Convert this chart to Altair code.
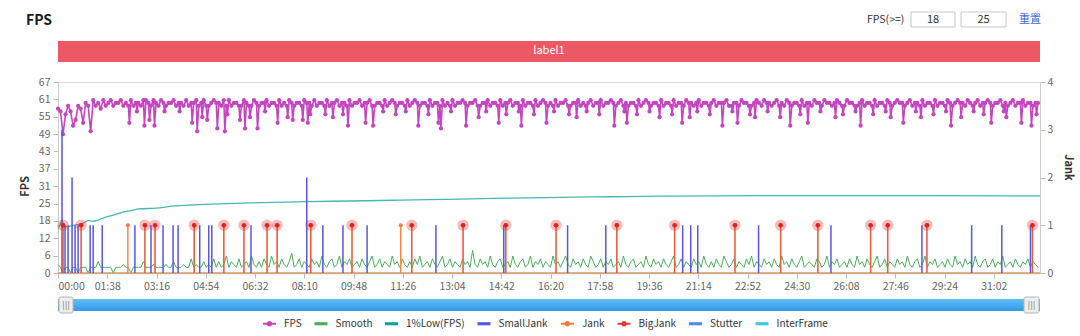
import altair as alt
import pandas as pd

# ------------------------------------------------------------------ data
T_STEP = 5          # sampling step of the FPS / Smooth series (seconds)
X_MAX = 1954        # end of the recording (seconds)

# FPS sampled every 5 s (regular frames)
FPS = [
    58, 57, 49, 56, 59, 57, 52, 54, 59, 58, 53, 60, 59, 50, 61, 59, 60, 58, 61, 59,
    60, 61, 59, 60, 60, 61, 59, 60, 59, 61, 59, 60, 60, 59, 61, 61, 60, 59, 61, 60,
    59, 61, 60, 59, 60, 60, 61, 59, 60, 60, 59, 61, 59, 60, 60, 61, 59, 60, 61, 59,
    59, 60, 61, 60, 60, 59, 61, 59, 61, 59, 60, 60, 59, 59, 61, 60, 59, 59, 61, 60,
    59, 60, 60, 61, 59, 60, 60, 59, 61, 59, 60, 59, 61, 60, 59, 60, 60, 59, 61, 60,
    60, 59, 61, 59, 60, 60, 59, 61, 59, 60, 60, 61, 59, 60, 60, 59, 61, 59, 60, 60,
    61, 59, 60, 60, 61, 59, 59, 60, 60, 59, 61, 59, 60, 61, 60, 59, 60, 60, 59, 61,
    59, 60, 61, 60, 59, 60, 60, 59, 61, 59, 60, 60, 59, 61, 59, 60, 59, 61, 59, 60,
    60, 61, 60, 59, 60, 60, 61, 59, 59, 60, 60, 61, 59, 60, 60, 59, 61, 59, 60, 60,
    61, 59, 60, 60, 59, 61, 59, 60, 60, 59, 61, 59, 60, 61, 60, 59, 60, 59, 61, 59,
    60, 60, 61, 59, 59, 60, 60, 61, 59, 60, 59, 60, 61, 59, 60, 60, 61, 59, 60, 60,
    61, 60, 59, 60, 61, 59, 60, 59, 60, 60, 59, 61, 59, 60, 61, 60, 59, 60, 60, 59,
    61, 59, 60, 60, 59, 61, 59, 60, 60, 59, 61, 60, 60, 59, 60, 61, 59, 60, 60, 59,
    60, 61, 59, 60, 60, 60, 61, 59, 59, 60, 60, 59, 61, 60, 60, 59, 59, 60, 61, 60,
    59, 61, 60, 60, 59, 60, 61, 59, 60, 59, 61, 60, 59, 60, 60, 59, 61, 59, 60, 60,
    59, 61, 60, 60, 59, 61, 60, 60, 59, 60, 61, 60, 59, 59, 61, 60, 60, 59, 59, 60,
    61, 59, 60, 60, 59, 61, 59, 60, 60, 59, 61, 60, 59, 60, 61, 60, 60, 59, 60, 61,
    59, 60, 60, 59, 61, 59, 60, 60, 59, 61, 59, 60, 60, 59, 61, 60, 59, 60, 61, 60,
    60, 59, 61, 60, 59, 60, 61, 59, 60, 60, 61, 60, 59, 60, 60, 61, 59, 60, 59, 60,
    61, 59, 60, 60, 61, 59, 60, 60, 59, 60, 60,
]

# short FPS drops (time in s, FPS value)
DIP_T = [142, 157, 172, 182, 192, 212, 242, 267, 277, 287, 297, 317, 332, 337,
         362, 372, 382, 397, 412, 437, 457, 467, 487, 497, 502, 532, 547, 567,
         577, 612, 627, 647, 672, 692, 717, 737, 757, 762, 782, 812, 837, 852,
         877, 892, 917, 922, 947, 972, 987, 1017, 1032, 1052, 1077, 1107, 1127,
         1132, 1152, 1177, 1197, 1222, 1242, 1257, 1272, 1297, 1322, 1342, 1352,
         1377, 1387, 1412, 1437, 1457, 1477, 1492, 1517, 1547, 1562, 1587, 1597,
         1622, 1647, 1657, 1682, 1707, 1717, 1742, 1767, 1777, 1797, 1822, 1842,
         1857, 1882, 1887, 1917, 1937, 1947]
DIP_V = [53, 57, 52, 54, 52, 57, 57, 53, 50, 55, 54, 51, 50, 56,
         54, 51, 55, 51, 57, 53, 55, 54, 54, 53, 56, 56, 55, 56,
         52, 53, 52, 57, 56, 57, 52, 56, 53, 51, 57, 52, 55, 57,
         53, 56, 57, 52, 56, 53, 57, 56, 55, 57, 56, 52, 57,
         53, 56, 57, 55, 56, 53, 55, 57, 56, 52, 57, 53,
         56, 55, 57, 55, 52, 56, 53, 57, 55, 56, 57, 52,
         56, 57, 55, 53, 57, 55, 56, 57, 52, 55, 57, 56,
         53, 57, 55, 53, 52, 56]

SMOOTH = [
    3, 2, 0, 2, 2, 0, 2, 2, 0, 2, 2, 2, 0, 2, 2, 2, 4, 2, 2, 2,
    2, 2, 0, 2, 2, 2, 3, 2, 2, 0, 2, 2, 2, 2, 4, 2, 2, 2, 3, 2,
    2, 2, 2, 3, 2, 2, 4, 2, 2, 2, 3, 2, 2, 5, 2, 3, 2, 2, 4, 2,
    3, 2, 5, 2, 4, 2, 3, 6, 2, 4, 3, 2, 5, 2, 3, 4, 2, 6, 3, 2,
    4, 2, 5, 3, 2, 6, 3, 4, 2, 5, 3, 2, 4, 7, 2, 3, 5, 2, 4, 3,
    2, 5, 3, 4, 2, 6, 3, 2, 4, 5, 2, 3, 6, 2, 4, 3, 5, 2, 3, 4,
    2, 5, 3, 2, 4, 6, 2, 3, 5, 2, 4, 3, 2, 6, 3, 4, 2, 5, 3, 2,
    4, 2, 5, 3, 6, 2, 3, 4, 2, 5, 3, 2, 4, 6, 2, 3, 5, 2, 4, 3,
    2, 5, 3, 4, 2, 8, 3, 2, 5, 3, 4, 2, 6, 3, 2, 4, 5, 2, 3, 4,
    2, 6, 3, 2, 4, 5, 2, 3, 6, 2, 4, 3, 5, 2, 4, 3, 2, 6, 3, 4,
    2, 4, 6, 3, 2, 5, 3, 4, 2, 5, 3, 2, 6, 4, 2, 3, 5, 2, 4, 3,
    5, 2, 3, 4, 2, 6, 3, 2, 4, 5, 2, 3, 4, 2, 6, 3, 2, 5, 3, 4,
    2, 5, 3, 2, 4, 6, 2, 3, 5, 2, 4, 3, 2, 5, 3, 4, 2, 6, 3, 2,
    4, 2, 5, 3, 2, 6, 4, 2, 3, 5, 2, 4, 3, 2, 5, 3, 6, 2, 4, 3,
    2, 5, 3, 4, 2, 5, 3, 2, 6, 3, 4, 2, 5, 3, 2, 4, 6, 2, 3, 4,
    3, 2, 5, 4, 2, 3, 6, 2, 4, 3, 5, 2, 3, 4, 2, 5, 3, 2, 6, 3,
    4, 2, 5, 3, 2, 4, 6, 2, 3, 5, 2, 4, 3, 2, 5, 3, 4, 2, 6, 3,
    2, 4, 5, 2, 3, 6, 2, 4, 3, 5, 2, 3, 4, 2, 5, 3, 2, 6, 3, 4,
    2, 5, 3, 4, 2, 6, 3, 2, 4, 5, 2, 3, 5, 2, 4, 3, 6, 2, 3, 4,
    2, 5, 3, 2, 4, 3, 5, 2, 4, 3, 2,
]

LOW_T = [0, 4, 8, 12, 20, 30, 42, 52, 60, 70, 95, 110, 129, 145, 161, 195, 229,
         262, 320, 400, 495, 580, 680, 800, 900, 1000, 1100, 1200, 1300, 1500,
         1700, 1954]
LOW_V = [15.5, 17.0, 18.8, 16.2, 16.4, 16.8, 17.2, 17.8, 18.5, 18.3, 19.7, 20.4,
         21.5, 22.0, 22.6, 22.9, 23.6, 24.0, 24.4, 24.8, 25.2, 25.4, 25.7, 26.1,
         26.4, 26.7, 26.9, 27.1, 27.25, 27.3, 27.3, 27.2]

SMALLJANK_T = [8, 14, 20, 28, 34, 40, 64, 70, 88, 153, 185, 209, 229, 239, 282,
               300, 306, 384, 495, 527, 567, 615, 752, 887, 1014, 1090, 1243, 1259,
               1273, 1394, 1538, 1719, 1818, 1878, 1935]
SMALLJANK_V = [3, 1, 1, 2, 1, 1, 1, 1, 1, 1, 1, 1, 1, 1, 1,
               1, 1, 1, 2, 1, 1, 1, 1, 1, 1, 1, 1, 1,
               1, 1, 1, 1, 1, 1, 1]
JANK_T = [139, 682]
BIGJANK_T = [10, 46, 173, 193, 271, 330, 370, 416, 436, 503, 585, 704, 806, 891,
             991, 1112, 1227, 1347, 1438, 1512, 1617, 1651, 1729, 1939]

LABELS = ["label1"]
LABEL_START = [0]
LABEL_END = [X_MAX]

FPS_TICK_LABELS = ["0", "6", "12", "18", "25", "31", "37", "43", "49", "55", "61", "67"]
FPS_AXIS_MAX = 67.4
JANK_TICKS = [0, 1, 2, 3, 4]
X_TICK_STEP = 98
X_TICK_LABELS = ["00:00", "01:38", "03:16", "04:54", "06:32", "08:10", "09:48",
                 "11:26", "13:04", "14:42", "16:20", "17:58", "19:36", "21:14",
                 "22:52", "24:30", "26:08", "27:46", "29:24", "31:02"]

SERIES = ["FPS", "Smooth", "1%Low(FPS)", "SmallJank", "Jank", "BigJank",
          "Stutter", "InterFrame"]
COLORS = ["#c545c0", "#4cae5c", "#16a09a", "#5757dd", "#ee7d3a", "#e03a3a",
          "#4a8ee8", "#3dc9d9"]

FPS_MIN_INPUT = "18"
FPS_MAX_INPUT = "25"

# ------------------------------------------------------------------ styling
FONT = "Noto Sans CJK SC"
W, H = 982, 191
C_FPS, C_SMOOTH, C_LOW, C_SMALL, C_JANK, C_BIG = COLORS[:6]
C_CURVE = "#45b8b6"
C_BIGSTEM = "#e5613d"

BAR = "M-1,-0.24L1,-0.24L1,0.24L-1,0.24Z"
BAR_DOT = ("M-1,-0.15L1,-0.15L1,0.15L-1,0.15Z "
           "M0.42,0A0.42,0.42,0,1,1,-0.42,0A0.42,0.42,0,1,1,0.42,0Z")
SHAPES = [BAR_DOT, BAR, BAR, BAR, BAR_DOT, BAR_DOT, BAR, BAR]

times = [i * T_STEP for i in range(len(FPS))]
fps_df = pd.concat([pd.DataFrame({"t": times, "v": FPS}),
                    pd.DataFrame({"t": DIP_T, "v": DIP_V})]).sort_values("t")
fps_df = fps_df.reset_index(drop=True)
fps_df["o"] = range(len(fps_df))
smooth_df = pd.DataFrame({"t": times[:len(SMOOTH)], "v": SMOOTH})
low_df = pd.DataFrame({"t": LOW_T, "v": LOW_V})
small_df = pd.DataFrame({"t": SMALLJANK_T, "j": SMALLJANK_V})
jank_df = pd.DataFrame({"t": JANK_T, "j": [1] * len(JANK_T)})
big_df = pd.DataFrame({"t": BIGJANK_T, "j": [1] * len(BIGJANK_T)})
base_df = pd.DataFrame({"t": [0], "t1": [X_MAX], "j": [0]})
label_df = pd.DataFrame({"name": LABELS, "t": LABEL_START, "t1": LABEL_END})
label_df["mid"] = (label_df["t"] + label_df["t1"]) / 2
slider_df = pd.DataFrame({"t": [0], "t1": [X_MAX]})
one = pd.DataFrame({"a": [0]})

x_values = [i * X_TICK_STEP for i in range(len(X_TICK_LABELS))]
x_label_expr = "%s[round(datum.value / %d)]" % (str(X_TICK_LABELS), X_TICK_STEP)
fps_values = [i * FPS_AXIS_MAX / (len(FPS_TICK_LABELS) - 1) for i in range(len(FPS_TICK_LABELS))]
fps_label_expr = "%s[round(datum.value * %d / %s)]" % (
    str(FPS_TICK_LABELS), len(FPS_TICK_LABELS) - 1, FPS_AXIS_MAX)

X = alt.X("t:Q", scale=alt.Scale(domain=[0, X_MAX], nice=False, zero=False),
          axis=alt.Axis(values=x_values, labelExpr=x_label_expr, title=None,
                        grid=False, tickSize=5, labelPadding=3, domainColor="#9ccfe6",
                        tickColor="#b8b8b8", labelColor="#666", labelFontSize=10.5,
                        labelFont=FONT, domainWidth=1.5))
YF = alt.Y("v:Q", scale=alt.Scale(domain=[0, FPS_AXIS_MAX], nice=False, zero=True),
           axis=alt.Axis(orient="left", values=fps_values, labelExpr=fps_label_expr,
                         title="FPS", titleX=-33, titleY=104, titleAngle=-90,
                         titleAlign="center", titleBaseline="middle",
                         titleFontSize=11, titleFontWeight="bold", titleColor="#333",
                         grid=False, tickSize=5, labelPadding=3, domainColor="#cccccc",
                         tickColor="#b8b8b8", labelColor="#666", labelFontSize=10.5,
                         labelFont=FONT, titleFont=FONT))
YJ = alt.Y("j:Q", scale=alt.Scale(domain=[0, 4], nice=False),
           axis=alt.Axis(orient="right", values=JANK_TICKS, format="d",
                         title="Jank", titleX=27, titleY=85, titleAngle=90,
                         titleAlign="center", titleBaseline="middle",
                         titleFontSize=11, titleFontWeight="bold", titleColor="#333",
                         grid=False, tickSize=5, labelPadding=2, domainColor="#cccccc",
                         tickColor="#b8b8b8", labelColor="#666", labelFontSize=10.5,
                         labelFont=FONT, titleFont=FONT))

# ------------------------------------------------------------------ FPS axis layers
smooth_line = alt.Chart(smooth_df).mark_line(color=C_SMOOTH, strokeWidth=1).encode(x=X, y=YF)
low_line = alt.Chart(low_df).mark_line(color=C_CURVE, strokeWidth=1.3,
                                       interpolate="monotone").encode(x=X, y=YF)
fps_line = alt.Chart(fps_df).mark_line(color=C_FPS, strokeWidth=1.6).encode(
    x=X, y=YF, order="o:Q")
fps_pts = alt.Chart(fps_df).mark_point(color=C_FPS, filled=True, size=18,
                                       opacity=1).encode(x=X, y=YF)
left = alt.layer(smooth_line, low_line, fps_line, fps_pts)

# ------------------------------------------------------------------ Jank axis layers
baseline = alt.Chart(base_df).mark_rule(color="#e59a62", strokeWidth=1.5).encode(
    x=X, x2="t1:Q", y=YJ)
small_rules = alt.Chart(small_df).mark_rule(color=C_SMALL, strokeWidth=1.5).encode(
    x=X, y=YJ, y2=alt.datum(0))
jank_rules = alt.Chart(jank_df).mark_rule(color="#ef8a50", strokeWidth=1.5).encode(
    x=X, y=YJ, y2=alt.datum(0))
jank_dots = alt.Chart(jank_df).mark_point(color=C_JANK, filled=True, size=16,
                                          opacity=1).encode(x=X, y=YJ)
big_rules = alt.Chart(big_df).mark_rule(color=C_BIGSTEM, strokeWidth=1.6).encode(
    x=X, y=YJ, y2=alt.datum(0))
big_halo = alt.Chart(big_df).mark_point(color="#e83535", filled=True, size=130,
                                        opacity=0.33).encode(x=X, y=YJ)
big_dots = alt.Chart(big_df).mark_point(color="#e02222", filled=True, size=22,
                                        opacity=1).encode(x=X, y=YJ)
right = alt.layer(baseline, small_rules, jank_rules, big_rules, jank_dots,
                  big_halo, big_dots)

# ------------------------------------------------------------------ decorations
band = alt.Chart(label_df).mark_rect(color="#ec5965").encode(
    x=alt.X("t:Q", scale=alt.Scale(domain=[0, X_MAX], nice=False, zero=False)),
    x2="t1:Q", y=alt.value(-41), y2=alt.value(-20))
band_text = alt.Chart(label_df).mark_text(color="white", fontSize=11, font=FONT,
                                          baseline="middle").encode(
    x="mid:Q", y=alt.value(-31), text="name:N")

slider = alt.Chart(slider_df).mark_rect(
    color=alt.Gradient(gradient="linear", x1=0, x2=0, y1=0, y2=1,
                       stops=[alt.GradientStop(color="#63bdf6", offset=0),
                              alt.GradientStop(color="#2f9be8", offset=1)])
).encode(x="t:Q", x2="t1:Q", y=alt.value(217), y2=alt.value(229))
h_left = alt.Chart(one).mark_rect(fill="#eeeeee", stroke="#b5b5b5", strokeWidth=1,
                                  cornerRadius=2).encode(
    x=alt.value(1), x2=alt.value(15), y=alt.value(215), y2=alt.value(231))
h_right = alt.Chart(one).mark_rect(fill="#eeeeee", stroke="#b5b5b5", strokeWidth=1,
                                   cornerRadius=2).encode(
    x=alt.value(966), x2=alt.value(981), y=alt.value(215), y2=alt.value(231))
g_left = alt.Chart(one).mark_text(text="|||", fontSize=8, color="#888",
                                  font="DejaVu Sans").encode(x=alt.value(8), y=alt.value(224))
g_right = alt.Chart(one).mark_text(text="|||", fontSize=8, color="#888",
                                   font="DejaVu Sans").encode(x=alt.value(973.5), y=alt.value(224))

title = alt.Chart(one).mark_text(text="FPS", fontSize=14, fontWeight="bold",
                                 color="#1a1a1a", align="left", baseline="middle",
                                 font=FONT).encode(x=alt.value(-32), y=alt.value(-61))
ge_text = alt.Chart(one).mark_text(text="FPS(>=)", fontSize=10.5, color="#333",
                                   align="left", baseline="middle", font=FONT).encode(
    x=alt.value(809), y=alt.value(-62))
box1 = alt.Chart(one).mark_rect(fill="white", stroke="#c8c8c8", strokeWidth=1).encode(
    x=alt.value(853), x2=alt.value(897), y=alt.value(-70), y2=alt.value(-55))
box2 = alt.Chart(one).mark_rect(fill="white", stroke="#c8c8c8", strokeWidth=1).encode(
    x=alt.value(903), x2=alt.value(948), y=alt.value(-70), y2=alt.value(-55))
box1_t = alt.Chart(one).mark_text(text=FPS_MIN_INPUT, fontSize=11, color="#333",
                                  baseline="middle", font=FONT).encode(
    x=alt.value(875), y=alt.value(-62))
box2_t = alt.Chart(one).mark_text(text=FPS_MAX_INPUT, fontSize=11, color="#333",
                                  baseline="middle", font=FONT).encode(
    x=alt.value(925.5), y=alt.value(-62))
reset = alt.Chart(one).mark_text(text="重置", fontSize=11, color="#3f6ad8",
                                 baseline="middle", font=FONT).encode(
    x=alt.value(972), y=alt.value(-62))

legend_layer = alt.Chart(pd.DataFrame({"series": SERIES})).transform_filter(
    "false").mark_point(filled=True, opacity=1).encode(
    color=alt.Color("series:N", scale=alt.Scale(domain=SERIES, range=COLORS),
                    legend=alt.Legend(title=None)),
    shape=alt.Shape("series:N", scale=alt.Scale(domain=SERIES, range=SHAPES),
                    legend=alt.Legend(title=None)))

chart = alt.layer(
    band, band_text, slider, h_left, h_right, g_left, g_right,
    title, ge_text, box1, box2, box1_t, box2_t, reset,
    left, right, legend_layer
).resolve_scale(y="independent").properties(
    width=W, height=H, autosize=alt.AutoSizeParams(type="none"),
    padding={"left": 58, "top": 82, "right": 40, "bottom": 63}
).configure_view(stroke=None).configure(font=FONT).configure_legend(
    orient="none", legendX=205, legendY=235, direction="horizontal",
    symbolSize=169, symbolStrokeWidth=0, labelFontSize=10, labelColor="#333",
    labelFont=FONT, labelOffset=8, columnPadding=12.5, padding=0, offset=0
)

chart.save("out.html", embed_options={"renderer": "svg", "actions": False})
